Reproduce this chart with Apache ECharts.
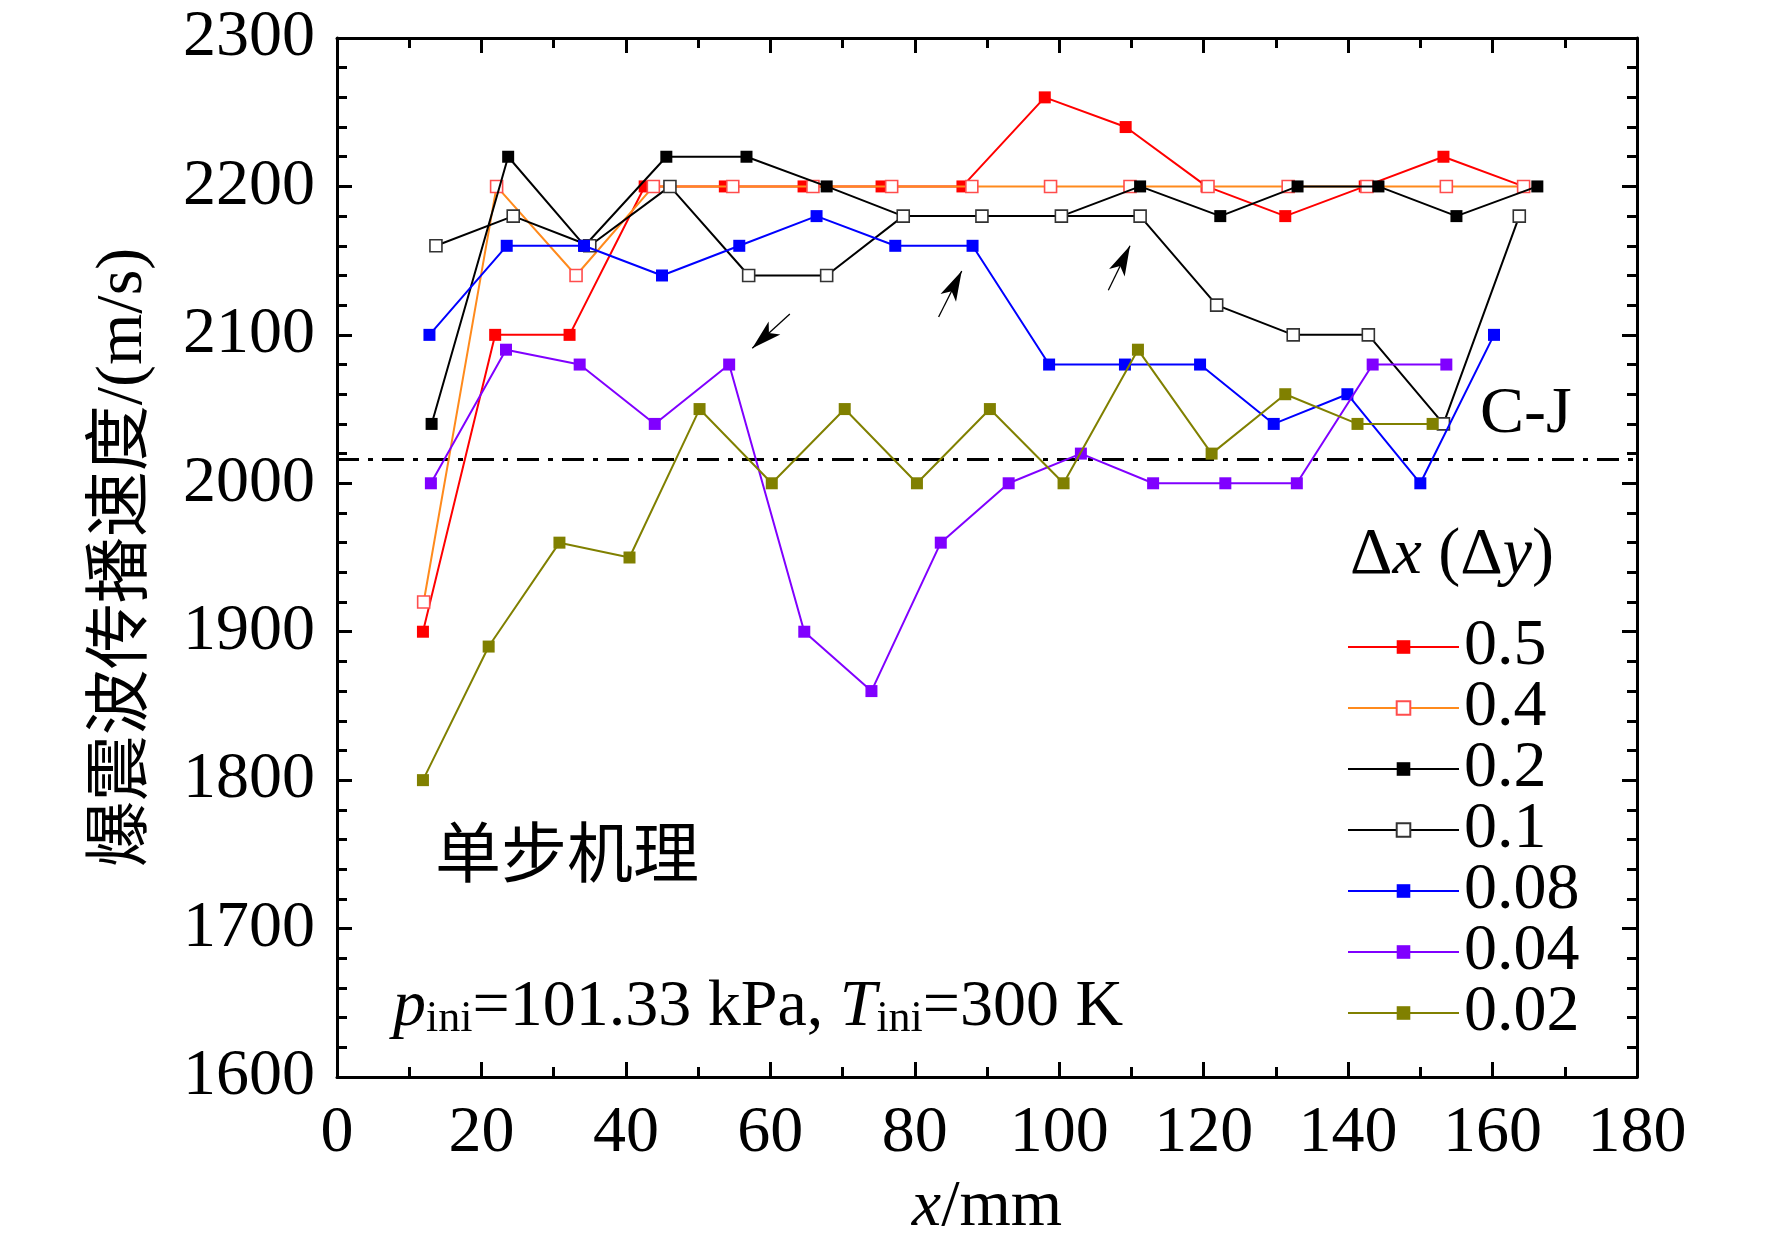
<!DOCTYPE html>
<html>
<head>
<meta charset="utf-8">
<script src="https://cdn.jsdelivr.net/npm/echarts@6/dist/echarts.min.js"></script>
<style>html,body{margin:0;padding:0;background:#fff}#c{width:1772px;height:1250px}</style>
</head>
<body>
<div id="c"></div>
<script>
// ---- data ----
const xTicks = [0, 20, 40, 60, 80, 100, 120, 140, 160, 180];
const yTicks = [1600, 1700, 1800, 1900, 2000, 2100, 2200, 2300];
const seriesNames = ['0.5', '0.4', '0.2', '0.1', '0.08', '0.04', '0.02'];

const x05 = [11.9, 21.9, 32.2, 42.6, 53.7, 64.6, 75.4, 86.6, 98.0, 109.2, 120.4, 131.3, 142.3, 153.2, 164.3];
const v05 = [1900, 2100, 2100, 2200, 2200, 2200, 2200, 2200, 2260, 2240, 2200, 2180, 2200, 2220, 2200];

const x04 = [12.0, 22.1, 33.1, 43.8, 54.8, 65.9, 76.8, 87.9, 98.8, 109.8, 120.6, 131.7, 142.6, 153.6, 164.3];
const v04 = [1920, 2200, 2140, 2200, 2200, 2200, 2200, 2200, 2200, 2200, 2200, 2200, 2200, 2200, 2200];

const x02 = [13.1, 23.7, 34.3, 45.6, 56.7, 67.8, 78.4, 89.3, 100.3, 111.2, 122.3, 133.0, 144.2, 155.0, 166.2];
const v02 = [2040, 2220, 2160, 2220, 2220, 2200, 2180, 2180, 2180, 2200, 2180, 2200, 2200, 2180, 2200];

const x01 = [13.7, 24.4, 35.0, 46.1, 57.0, 67.8, 78.4, 89.3, 100.3, 111.2, 121.8, 132.4, 142.8, 153.2, 163.7];
const v01 = [2160, 2180, 2160, 2200, 2140, 2140, 2180, 2180, 2180, 2180, 2120, 2100, 2100, 2040, 2180];

const x008 = [12.8, 23.5, 34.2, 45.0, 55.7, 66.4, 77.3, 88.0, 98.6, 109.1, 119.5, 129.7, 139.9, 150.0, 160.2];
const v008 = [2100, 2160, 2160, 2140, 2160, 2180, 2160, 2160, 2080, 2080, 2080, 2040, 2060, 2000, 2100];

const x004 = [13.0, 23.4, 33.6, 44.0, 54.3, 64.7, 74.0, 83.6, 93.0, 103.0, 113.0, 123.0, 132.9, 143.4, 153.6];
const v004 = [2000, 2090, 2080, 2040, 2080, 1900, 1860, 1960, 2000, 2020, 2000, 2000, 2000, 2080, 2080];

const x002 = [11.9, 21.0, 30.8, 40.5, 50.2, 60.2, 70.3, 80.3, 90.4, 100.6, 110.9, 121.1, 131.3, 141.3, 151.7];
const v002 = [1800, 1890, 1960, 1950, 2050, 2000, 2050, 2000, 2050, 2000, 2090, 2020, 2060, 2040, 2040];

const cjValue = 2016;
// annotation arrows (data units): tail and arrow-head centre
const arrowTail = [[62.7, 2114], [83.3, 2112], [106.8, 2130]];
const arrowHead = [[57.5, 2091], [86.5, 2143], [109.8, 2160]];

// ---- chart ----
const SERIF = "'Liberation Serif','Times New Roman',serif";
const CJK = "'Liberation Serif','Noto Sans CJK SC',sans-serif";
const BLACK = '#000';

function pairs(xs, vs) { return xs.map((x, i) => [x, vs[i]]); }

function lineSeries(name, xs, vs, lineColor, fill, border, idx) {
  return {
    name: name, type: 'line', data: pairs(xs, vs),
    symbol: 'rect', symbolSize: 12, showSymbol: true,
    lineStyle: { color: lineColor, width: 2 },
    itemStyle: border ? { color: fill, borderColor: border, borderWidth: 1.6 }
                      : { color: fill, borderWidth: 0 },
    emphasis: { disabled: true },
    z: 3 + idx, animation: false
  };
}

function axisCommon(ticks, minorSplit) {
  return {
    type: 'value', min: ticks[0], max: ticks[ticks.length - 1], interval: ticks[1] - ticks[0],
    axisLine: { show: true, onZero: false, lineStyle: { color: BLACK, width: 3 } },
    axisTick: { show: true, inside: true, length: 15, lineStyle: { color: BLACK, width: 3 } },
    minorTick: { show: true, splitNumber: minorSplit, length: 10, lineStyle: { color: BLACK, width: 3 } },
    splitLine: { show: false }, minorSplitLine: { show: false }
  };
}

const chart = echarts.init(document.getElementById('c'), null, { renderer: 'canvas' });

const option = {
  animation: false,
  backgroundColor: '#fff',
  grid: { left: 337, right: 135, top: 38, bottom: 173, containLabel: false, outerBoundsMode: 'none' },
  xAxis: [
    Object.assign(axisCommon(xTicks, 2), {
      position: 'bottom',
      axisLabel: { show: true, color: BLACK, fontSize: 66, fontFamily: SERIF, margin: 24,
                   formatter: v => String(v) },
      name: '{i|x}/mm', nameLocation: 'middle', nameGap: 98,
      nameTextStyle: {
        color: BLACK, fontSize: 66, fontFamily: SERIF,
        rich: { i: { fontStyle: 'italic', fontSize: 66, fontFamily: SERIF, color: BLACK } }
      }
    }),
    Object.assign(axisCommon(xTicks, 2), { position: 'top', axisLabel: { show: false } })
  ],
  yAxis: [
    Object.assign(axisCommon(yTicks, 5), {
      position: 'left',
      axisLabel: { show: true, color: BLACK, fontSize: 66, fontFamily: SERIF, margin: 22, padding: [0, 0, 10, 0],
                   formatter: v => String(v) },
      name: '爆震波传播速度/(m/s)', nameLocation: 'middle', nameGap: 180, nameRotate: 90,
      nameTextStyle: { color: BLACK, fontSize: 66, fontFamily: CJK }
    }),
    Object.assign(axisCommon(yTicks, 5), { position: 'right', axisLabel: { show: false } })
  ],
  legend: {
    show: true, orient: 'vertical', left: 1347, top: 614, padding: 0,
    itemWidth: 111, itemHeight: 17, itemGap: -5,
    data: seriesNames,
    textStyle: { color: BLACK, fontSize: 66, fontFamily: SERIF },
    selectedMode: false
  },
  tooltip: { show: false },
  series: [
    {
      name: 'C-J', type: 'line', data: [[xTicks[0], cjValue], [xTicks[xTicks.length - 1], cjValue]],
      symbol: 'none', silent: true, z: 1,
      lineStyle: { color: BLACK, width: 3, type: [22, 9, 5, 9] },
      emphasis: { disabled: true },
      markLine: {
        silent: true, animation: false,
        symbol: ['none', 'arrow'], symbolSize: [13, 30],
        label: { show: false },
        lineStyle: { color: BLACK, width: 1.3, type: 'solid' },
        emphasis: { disabled: true },
        data: arrowTail.map((t, i) => [{ coord: t }, { coord: arrowHead[i] }])
      }
    },
    lineSeries('0.5', x05, v05, '#ff0000', '#ff0000', null, 0),
    lineSeries('0.4', x04, v04, '#ff8a1c', '#ffffff', '#ff4d4d', 1),
    lineSeries('0.2', x02, v02, '#000000', '#000000', null, 2),
    lineSeries('0.1', x01, v01, '#000000', '#ffffff', '#333333', 3),
    lineSeries('0.08', x008, v008, '#0000ff', '#0000ff', null, 4),
    lineSeries('0.04', x004, v004, '#8000ff', '#8000ff', null, 5),
    lineSeries('0.02', x002, v002, '#808000', '#808000', null, 6)
  ],
  graphic: [
    {
      type: 'text', x: 435, y: 852, silent: true,
      style: { text: '单步机理', font: "66px 'Noto Sans CJK SC'", fill: BLACK, verticalAlign: 'middle', align: 'left' }
    },
    {
      type: 'text', x: 1480, y: 415, silent: true,
      style: { text: 'C-J', font: "66px " + SERIF, fill: BLACK, verticalAlign: 'middle', align: 'left' }
    },
    {
      type: 'text', x: 1350, y: 556, silent: true,
      style: {
        text: '{n|Δ}{i|x}{n| (Δ}{i|y}{n|)}', verticalAlign: 'middle', align: 'left',
        rich: {
          n: { fontSize: 66, fontFamily: SERIF, fill: BLACK, lineHeight: 66 },
          i: { fontSize: 66, fontFamily: SERIF, fontStyle: 'italic', fill: BLACK, lineHeight: 66 }
        }
      }
    },
    {
      type: 'text', x: 393, y: 1008, silent: true,
      style: {
        text: '{i|p}{s|ini}{n|=101.33 kPa, }{i|T}{s|ini}{n|=300 K}', verticalAlign: 'middle', align: 'left',
        rich: {
          n: { fontSize: 66, fontFamily: SERIF, fill: BLACK, lineHeight: 66 },
          i: { fontSize: 66, fontFamily: SERIF, fontStyle: 'italic', fill: BLACK, lineHeight: 66 },
          s: { fontSize: 44, fontFamily: SERIF, fill: BLACK, lineHeight: 44, verticalAlign: 'bottom' }
        }
      }
    }
  ]
};

chart.setOption(option);
</script>
</body>
</html>
